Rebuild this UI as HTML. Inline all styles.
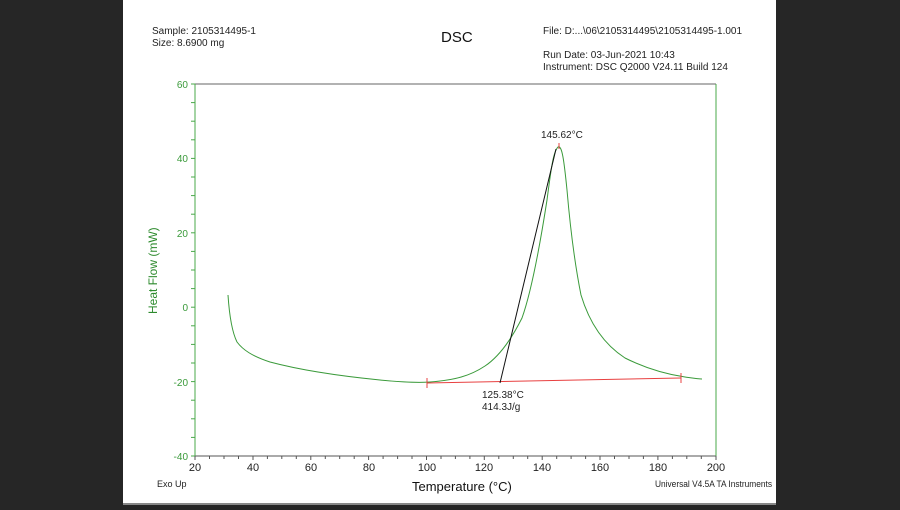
<!DOCTYPE html>
<html><head><style>
body{margin:0;width:900px;height:505px;overflow:hidden;background:#262626;font-family:"Liberation Sans",sans-serif}
</style></head><body>
<svg width="900" height="505" xmlns="http://www.w3.org/2000/svg" font-family="Liberation Sans, sans-serif">
<rect x="0" y="0" width="900" height="505" fill="#262626"/>
<rect x="123" y="0" width="653" height="503" fill="#fff"/>
<rect x="123" y="503" width="653" height="2" fill="#888"/>
<g font-size="10" fill="#222">
<text x="152" y="34">Sample: 2105314495-1</text>
<text x="152" y="46">Size:  8.6900 mg</text>
<text x="543" y="34">File: D:...\06\2105314495\2105314495-1.001</text>
<text x="543" y="58">Run Date: 03-Jun-2021 10:43</text>
<text x="543" y="70">Instrument: DSC Q2000 V24.11 Build 124</text>
<text x="157" y="487" font-size="9">Exo Up</text>
<text x="655" y="487" font-size="9" textLength="117" lengthAdjust="spacingAndGlyphs">Universal V4.5A TA Instruments</text>
</g>
<text x="441" y="42" font-size="15" fill="#111">DSC</text>
<text x="412" y="491" font-size="13" fill="#111">Temperature (°C)</text>
<text transform="translate(157,314) rotate(-90)" font-size="12" fill="#2e8b2e">Heat Flow (mW)</text>
<line x1="195" y1="84" x2="716" y2="84" stroke="#666" stroke-width="1"/>
<line x1="195" y1="456" x2="716" y2="456" stroke="#555" stroke-width="1"/>
<line x1="195" y1="84" x2="195" y2="456" stroke="#4aa84a" stroke-width="1"/>
<line x1="716" y1="84" x2="716" y2="456" stroke="#4aa84a" stroke-width="1"/>
<g stroke="#4aa84a" stroke-width="1">
<line x1="191" y1="84" x2="195" y2="84"/><line x1="191" y1="102.6" x2="195" y2="102.6"/><line x1="191" y1="121.2" x2="195" y2="121.2"/><line x1="191" y1="139.8" x2="195" y2="139.8"/>
<line x1="191" y1="158.4" x2="195" y2="158.4"/><line x1="191" y1="177" x2="195" y2="177"/><line x1="191" y1="195.6" x2="195" y2="195.6"/><line x1="191" y1="214.2" x2="195" y2="214.2"/>
<line x1="191" y1="232.8" x2="195" y2="232.8"/><line x1="191" y1="251.4" x2="195" y2="251.4"/><line x1="191" y1="270" x2="195" y2="270"/><line x1="191" y1="288.6" x2="195" y2="288.6"/>
<line x1="191" y1="307.2" x2="195" y2="307.2"/><line x1="191" y1="325.8" x2="195" y2="325.8"/><line x1="191" y1="344.4" x2="195" y2="344.4"/><line x1="191" y1="363" x2="195" y2="363"/>
<line x1="191" y1="381.6" x2="195" y2="381.6"/><line x1="191" y1="400.2" x2="195" y2="400.2"/><line x1="191" y1="418.8" x2="195" y2="418.8"/><line x1="191" y1="437.4" x2="195" y2="437.4"/><line x1="191" y1="456" x2="195" y2="456"/>
</g>
<g font-size="10" fill="#3a9a3a" text-anchor="end">
<text x="188" y="88">60</text><text x="188" y="162">40</text><text x="188" y="237">20</text><text x="188" y="311">0</text><text x="188" y="386">-20</text><text x="188" y="460">-40</text>
</g>
<g stroke="#555" stroke-width="1">
<path d="M195 456v4M209.5 456v3M224 456v3M238.5 456v3M253 456v4M267.4 456v3M281.8 456v3M296.3 456v3M310.8 456v4M325.3 456v3M339.7 456v3M354.2 456v3M368.6 456v4M383.1 456v3M397.6 456v3M412 456v3M426.5 456v4M441 456v3M455.4 456v3M469.9 456v3M484.3 456v4M498.8 456v3M513.3 456v3M527.7 456v3M542.2 456v4M556.7 456v3M571.1 456v3M585.6 456v3M600 456v4M614.5 456v3M629 456v3M643.4 456v3M657.9 456v4M672.4 456v3M686.8 456v3M701.3 456v3M716 456v4"/>
</g>
<g font-size="11" fill="#222" text-anchor="middle">
<text x="195" y="471">20</text><text x="253" y="471">40</text><text x="311" y="471">60</text><text x="369" y="471">80</text><text x="427" y="471">100</text><text x="484" y="471">120</text><text x="542" y="471">140</text><text x="600" y="471">160</text><text x="658" y="471">180</text><text x="716" y="471">200</text>
</g>
<path d="M228 295 C229 310,231 330,237 342 C243 350,252 356,270 362 C300 370,340 376,380 380 C400 382,415 383,430 382 C455 380,470 376,485 366 C500 356,512 338,522 318 C532 290,540 245,547 200 C551 170,553 152,558 147 C562 145,564 160,567 190 C570 225,574 260,581 295 C590 325,605 345,625 358 C645 368,665 374,685 377 C692 378,698 379,702 379" fill="none" stroke="#3a9a3a" stroke-width="1"/>
<line x1="427" y1="383" x2="681" y2="378" stroke="#e84040" stroke-width="1"/>
<line x1="427" y1="378" x2="427" y2="388" stroke="#e84040"/>
<line x1="681" y1="373" x2="681" y2="383" stroke="#e84040"/>
<line x1="559" y1="143" x2="559" y2="149" stroke="#e84040"/>
<line x1="500" y1="383" x2="556" y2="149" stroke="#111" stroke-width="1"/>
<g font-size="10" fill="#222">
<text x="541" y="138">145.62°C</text>
<text x="482" y="398">125.38°C</text>
<text x="482" y="410">414.3J/g</text>
</g>
</svg>
</body></html>
